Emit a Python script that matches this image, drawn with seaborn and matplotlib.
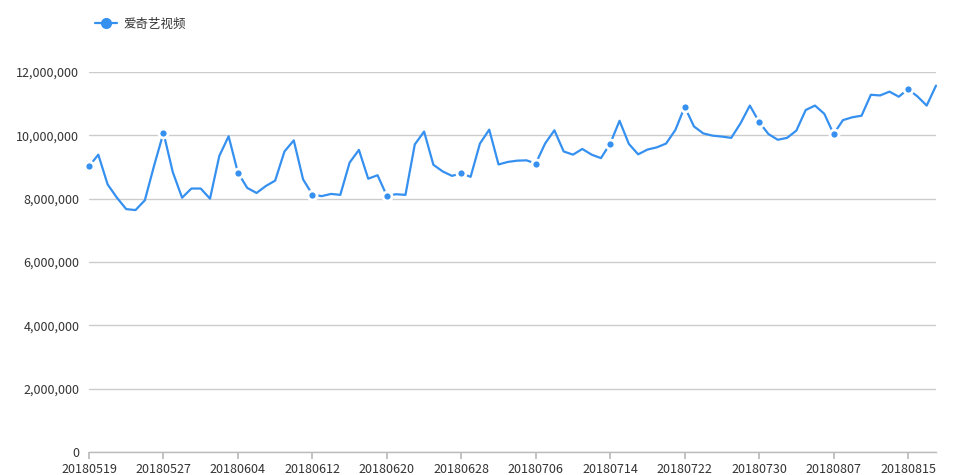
import numpy as np
import pandas as pd
import matplotlib
matplotlib.use("Agg")
import matplotlib.pyplot as plt
from matplotlib.lines import Line2D
import seaborn as sns

# daily values, 20180519 .. 20180818
dates = pd.date_range("2018-05-19", "2018-08-18").strftime("%Y%m%d").tolist()
views = [
    9.02, 9.39, 8.45, 8.03, 7.67, 7.64, 7.95, 9.05, 10.08, 8.84,
    8.03, 8.32, 8.32, 8.00, 9.35, 9.97, 8.82, 8.34, 8.18, 8.40,
    8.57, 9.49, 9.84, 8.61, 8.13, 8.08, 8.15, 8.12, 9.14, 9.54,
    8.63, 8.74, 8.09, 8.14, 8.12, 9.71, 10.12, 9.07, 8.86, 8.72,
    8.80, 8.69, 9.74, 10.18, 9.08, 9.16, 9.20, 9.21, 9.11, 9.74,
    10.16, 9.49, 9.39, 9.57, 9.39, 9.28, 9.74, 10.46, 9.73, 9.40,
    9.55, 9.62, 9.74, 10.17, 10.90, 10.28, 10.06, 9.99, 9.96, 9.92,
    10.38, 10.94, 10.42, 10.04, 9.86, 9.92, 10.15, 10.80, 10.94, 10.68,
    10.04, 10.48, 10.57, 10.62, 11.28, 11.26, 11.38, 11.22, 11.46, 11.23,
    10.94, 11.57,
]
series_name = "爱奇艺视频"
yticks = [0, 2000000, 4000000, 6000000, 8000000, 10000000, 12000000]

df = pd.DataFrame({"date": dates, "value": np.array(views) * 1e6})
df["idx"] = range(len(df))

sns.set_theme(style="white")
plt.rcParams["font.family"] = ["Noto Sans CJK SC", "DejaVu Sans"]

blue = "#3590f0"
fig = plt.figure(figsize=(9.62, 4.75), dpi=100)
ax = fig.add_axes([89 / 962, 23 / 475, (936 - 89) / 962, (452 - 72) / 475])

sns.lineplot(data=df, x="idx", y="value", ax=ax, color=blue, linewidth=1.6,
             marker="o", markevery=8, markersize=6.5, markeredgewidth=2,
             markeredgecolor="white", markerfacecolor=blue, legend=False,
             clip_on=False, zorder=5)

ax.set_xlim(0, len(df) - 1)
ax.set_ylim(0, 12000000)
ax.set_yticks(yticks)
ax.set_yticklabels([f"{v:,}" for v in yticks])
ax.set_xticks(df["idx"][::8])
ax.set_xticklabels(df["date"][::8])
ax.set_xlabel("")
ax.set_ylabel("")
ax.grid(axis="y", color="#cccccc", linewidth=1)
ax.set_axisbelow(True)
for s in ["top", "right", "left"]:
    ax.spines[s].set_visible(False)
ax.spines["bottom"].set_color("#bbbbbb")
ax.spines["bottom"].set_linewidth(1)
ax.tick_params(axis="x", bottom=True, length=5, color="#bbbbbb", labelsize=9,
               labelcolor="#333333", pad=3)
ax.tick_params(axis="y", left=False, length=0, labelsize=9,
               labelcolor="#333333", pad=7)

handle = Line2D([], [], color=blue, linewidth=1.6, marker="o", markersize=8,
                markerfacecolor=blue, markeredgewidth=0)
fig.legend([handle], [series_name], loc="center left",
           bbox_to_anchor=(84 / 962, 1 - 24 / 475), frameon=False, fontsize=9,
           handlelength=1.7, handletextpad=0.6, labelcolor="#333333")

fig.savefig("out.png", dpi=100)
